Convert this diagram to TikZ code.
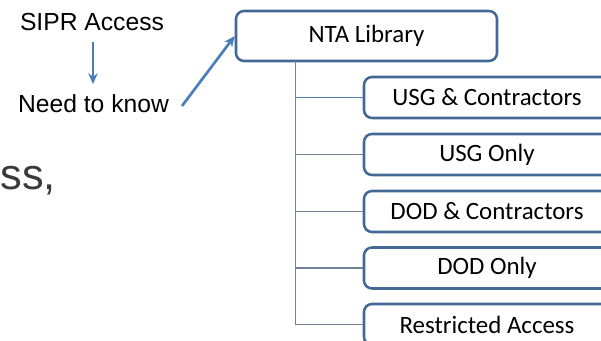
\documentclass[tikz,border=0pt]{standalone}
\usepackage{fontspec}
\setmainfont{Carlito}
\newfontfamily\arialf{Liberation Sans}
\usetikzlibrary{arrows.meta}
\definecolor{boxblue}{RGB}{66,104,150}
\definecolor{arrblue}{RGB}{74,126,187}
\definecolor{lineblue}{RGB}{79,129,189}
\definecolor{linegray}{RGB}{112,130,152}
\definecolor{bigtext}{RGB}{58,58,58}
\tikzset{
  box/.style={draw=boxblue, line width=1.9pt, rounded corners=6pt, fill=white,
    inner sep=0pt, font=\fontsize{18.7}{20}\selectfont},
  leaf/.style={box, minimum width=184.5pt, minimum height=30.75pt},
  conn/.style={draw=linegray, line width=1.05pt},
  bluearrow/.style={draw=arrblue, line width=2pt, -{Stealth[length=8pt,width=7pt]}},
  plaintext/.style={font=\arialf\fontsize{18.5}{20}\selectfont, inner sep=0pt, anchor=base}
}
\begin{document}
\begin{tikzpicture}[x=0.75pt, y=-0.75pt]
\useasboundingbox (0,0) rectangle (601,341);
% left texts
\node[plaintext] (sipr) at (92,31) {SIPR Access};
\node[plaintext] (need) at (93.5,113) {Need to know};
\node[font=\arialf\fontsize{32.5}{34}\selectfont, text=bigtext, inner sep=0pt, anchor=base east] (ss) at (56,189.5) {ss,};
% boxes
\node[box, minimum width=195.75pt, minimum height=37.5pt] (nta) at (366.5,36) {NTA Library};
\node[leaf] (c1) at (487,97.5) {USG \& Contractors};
\node[leaf] (c2) at (487,154.5) {USG Only};
\node[leaf] (c3) at (487,211.5) {DOD \& Contractors};
\node[leaf] (c4) at (487,268) {DOD Only};
\node[leaf] (c5) at (487,324.5) {Restricted Access};
% trunk
\coordinate (trunk) at (295.5,61);
\draw[conn] (trunk) -- (trunk |- c5.west);
\draw[conn, draw=lineblue] (trunk) |- (c1.west);
\draw[conn] (trunk) |- (c2.west);
\draw[conn] (trunk) |- (c3.west);
\draw[conn] (trunk) |- (c4.west);
\draw[conn] (trunk) |- (c5.west);
% arrows
\coordinate (a1) at (93,42);
\coordinate (a2) at (93,84);
\draw[bluearrow] (a1) -- (a2);
\coordinate (d1) at (182,106);
\draw[bluearrow] (d1) -- (nta.west);
\end{tikzpicture}
\end{document}
